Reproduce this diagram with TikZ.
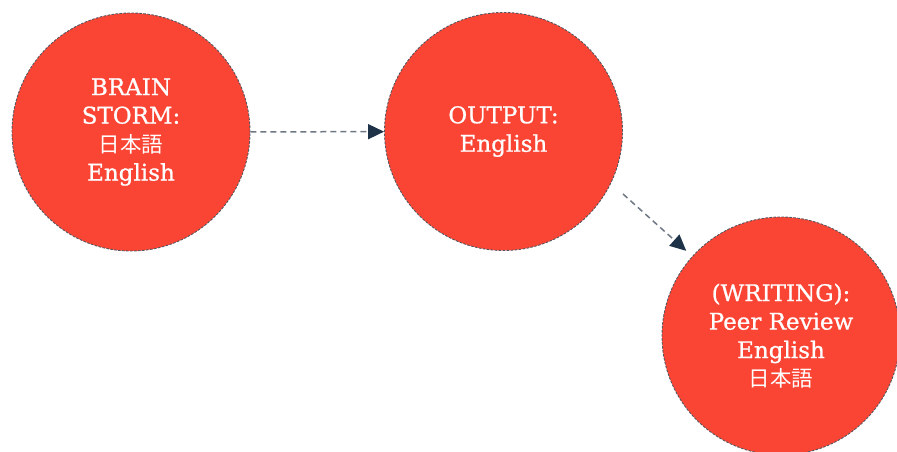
\documentclass[tikz,border=0pt]{standalone}
\usepackage{fontspec}
\setmainfont{DejaVu Serif}
\newfontfamily\medserif{DejaVu Serif}[FakeBold=0.9]
\newfontfamily\cjk{Noto Sans CJK JP}
\usetikzlibrary{arrows.meta}
\definecolor{bubble}{RGB}{250,68,52}
\definecolor{rim}{RGB}{80,88,98}
\definecolor{conn}{RGB}{110,120,132}
\definecolor{tip}{RGB}{30,50,72}
\begin{document}
\begin{tikzpicture}[x=1pt,y=-1pt,
  bubble/.style={circle,fill=bubble,draw=rim,line width=0.9pt,dash pattern=on 2.5pt off 1.5pt,
    minimum size=238pt,inner sep=0pt,text=white,align=center,
    font=\medserif\fontsize{23}{28.5}\selectfont},
  conn/.style={draw=conn,line width=1.5pt,dash pattern=on 6pt off 4pt,
    -{Triangle[length=16pt,width=15pt,color=tip]}}]
\useasboundingbox (0,0) rectangle (897,451);
\node[bubble] (c1) at (131,132) {BRAIN\\STORM:\\{\cjk\fontsize{21.5}{28.5}\selectfont 日本語}\\English};
\node[bubble] (c2) at (503.5,131.5) {OUTPUT:\\English};
\node[bubble] (c3) at (781,336) {(WRITING):\\Peer Review\\English\\{\cjk\fontsize{21.5}{28.5}\selectfont 日本語}};
\coordinate (s2) at (623,194);
\draw[conn] (c1) -- (c2);
\draw[conn,shorten >=8pt] (s2) -- (c3);
\end{tikzpicture}
\end{document}
